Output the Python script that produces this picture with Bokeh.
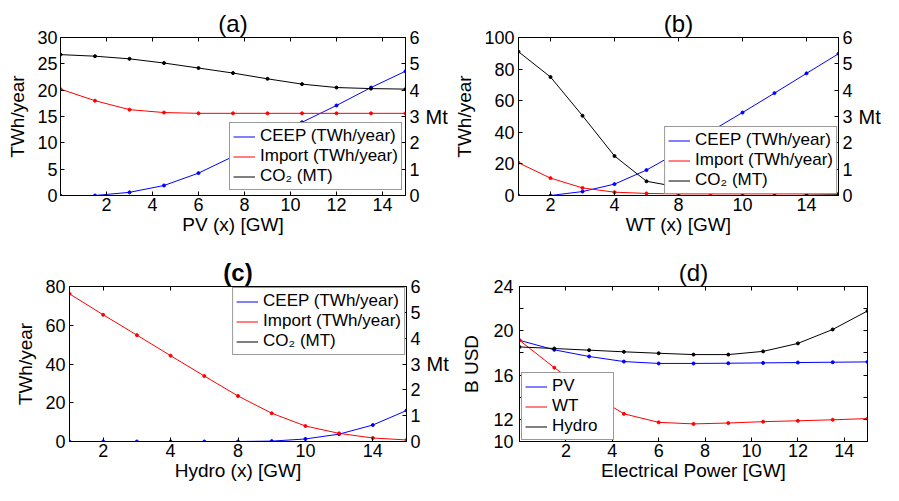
from bokeh.plotting import figure
from bokeh.models import LinearAxis, Range1d, FixedTicker, Legend, LegendItem
from bokeh.layouts import column, row
from bokeh.embed import file_html
from bokeh.resources import INLINE

FONT = "Liberation Sans"

# ---------------- data ----------------
# (a) PV
pv_x = [0, 1.5, 3, 4.5, 6, 7.5, 9, 10.5, 12, 13.5, 15]
pv_ceep = [0, 0, 0.6, 1.9, 4.25, 7.4, 10.7, 13.9, 17.1, 20.5, 23.6]
pv_import = [20.2, 18.0, 16.3, 15.75, 15.6, 15.6, 15.6, 15.6, 15.6, 15.6, 15.6]
pv_co2 = [5.35, 5.29, 5.19, 5.03, 4.84, 4.65, 4.43, 4.23, 4.10, 4.06, 4.04]
pv_ticks = [2, 4, 6, 8, 10, 12, 14]

# (b) WT  (evenly spaced steps, labelled as in the original)
wt_x = [0, 1, 2, 3, 4, 5, 6, 7, 8, 9, 10]
wt_tick_pos = [1, 3, 5, 7, 9]
wt_tick_labels = ["2", "4", "8", "10", "14"]
wt_ceep = [0, 0, 2.5, 7.2, 16.1, 27.5, 40.5, 52.5, 64.8, 77.3, 89.7]
wt_import = [20.7, 11.0, 4.8, 2.1, 1.3, 1.0, 1.0, 1.0, 1.0, 1.0, 1.0]
wt_co2 = [5.46, 4.50, 3.03, 1.50, 0.54, 0.32, 0.22, 0.15, 0.10, 0.07, 0.05]

# (c) Hydro
hy_x = [0, 1, 2, 3, 4, 5, 6, 7, 8, 9, 10]
hy_tick_pos = [1, 3, 5, 7, 9]
hy_tick_labels = ["2", "4", "8", "10", "14"]
hy_ceep = [0, 0, 0, 0, 0, 0, 0.2, 1.3, 3.8, 8.5, 16.0]
hy_import = [76.2, 65.4, 54.9, 44.3, 33.8, 23.5, 14.6, 8.0, 4.2, 1.8, 0.8]
hy_co2 = [0, 0, 0, 0, 0, 0, 0, 0, 0, 0, 0]  # lies on the axis, hidden

# (d) cost
ep_x = [0, 1.5, 3, 4.5, 6, 7.5, 9, 10.5, 12, 13.5, 15]
cost_pv = [19.14, 18.28, 17.68, 17.22, 17.05, 17.05, 17.07, 17.10, 17.13, 17.16, 17.19]
cost_wt = [19.14, 16.67, 14.4, 12.5, 11.73, 11.59, 11.67, 11.79, 11.87, 11.96, 12.07]
cost_hydro = [18.54, 18.40, 18.25, 18.10, 17.97, 17.85, 17.85, 18.14, 18.86, 20.12, 21.79]
ep_ticks = [2, 4, 6, 8, 10, 12, 14]
cost_ticks = [10, 12, 14, 16, 18, 20, 22, 24]
cost_tick_labels = ["10", "12", "", "16", "", "20", "", "24"]

co2_ticks = [0, 1, 2, 3, 4, 5, 6]

BLUE, RED, BLACK = "#0000ff", "#ff0000", "#000000"


def style_axis(ax, standoff=3, label_standoff=4, labels=True):
    ax.axis_line_color = "black"
    ax.axis_line_width = 1
    ax.major_tick_in = 4
    ax.major_tick_out = 0
    ax.minor_tick_line_color = None
    ax.major_tick_line_color = "black"
    ax.major_label_text_font = FONT
    ax.major_label_text_color = "black"
    ax.axis_label_text_font = FONT
    ax.axis_label_text_font_size = "19px"
    ax.axis_label_text_font_style = "normal"
    ax.axis_label_text_color = "black"
    ax.major_label_standoff = standoff
    ax.axis_label_standoff = label_standoff
    if labels:
        ax.major_label_text_font_size = "18px"
    else:
        ax.major_label_text_font_size = "0px"
        ax.major_label_text_color = None
        ax.major_label_standoff = 0


def make_fig(w, h, bl, br, bt, bb, xr, yr, title, bold=False):
    p = figure(width=w, height=h, x_range=Range1d(*xr), y_range=Range1d(*yr),
               output_backend="svg", toolbar_location=None,
               min_border_left=bl, min_border_right=br,
               min_border_top=bt, min_border_bottom=bb)
    p.title.text = title
    p.title.text_font = FONT
    p.title.text_font_size = "24px"
    p.title.text_font_style = "bold" if bold else "normal"
    p.title.text_color = "black"
    p.title.align = "center"
    p.title.standoff = 1
    p.xgrid.visible = False
    p.ygrid.visible = False
    p.outline_line_color = "black"
    p.outline_line_alpha = 1
    p.background_fill_color = "white"
    p.border_fill_color = "white"
    return p, p.below[0], p.left[0]


def set_ticks(ax, pos, labels=None):
    ax.ticker = FixedTicker(ticks=pos)
    if labels is not None:
        ax.major_label_overrides = {pos[i]: labels[i] for i in range(len(pos))}


def add_top(p, pos):
    top = LinearAxis()
    style_axis(top, labels=False)
    top.ticker = FixedTicker(ticks=pos)
    p.add_layout(top, "above")


def add_legend(p, items, location, label_width=20, margin=0):
    lg = Legend(items=[LegendItem(label=l, renderers=[r]) for l, r in items],
                location=location)
    lg.label_text_font = FONT
    lg.label_text_font_size = "17px"
    lg.label_text_color = "black"
    lg.glyph_width = 22
    lg.glyph_height = 19
    lg.label_height = 19
    lg.label_width = label_width
    lg.label_standoff = 5
    lg.spacing = 0
    lg.padding = 3
    lg.margin = margin
    lg.border_line_color = "#333333"
    lg.border_line_width = 1.5
    lg.background_fill_color = "white"
    lg.background_fill_alpha = 1
    p.add_layout(lg)


def series(p, x, y, color, rname=None):
    kw = {} if rname is None else {"y_range_name": rname}
    r = p.line(x, y, line_color=color, line_width=1, **kw)
    p.scatter(x, y, size=3, color=color, **kw)
    return r


def right_axis(p, tick_standoff):
    p.extra_y_ranges = {"co2": Range1d(0, 6)}
    ax = LinearAxis(y_range_name="co2", axis_label="Mt")
    style_axis(ax, standoff=tick_standoff, label_standoff=3)
    ax.axis_label_text_font_size = "20px"
    ax.axis_label_orientation = "horizontal"
    ax.ticker = FixedTicker(ticks=co2_ticks)
    p.add_layout(ax, "right")


# ---------------- (a) ----------------
pa, xa, ya = make_fig(451, 248, 60, 46, 35, 53, (0, 15), (0, 30), "(a)")
right_axis(pa, 4)
add_top(pa, pv_ticks)
style_axis(xa, standoff=2, label_standoff=0)
style_axis(ya, standoff=3, label_standoff=6)
xa.axis_label = "PV (x) [GW]"
ya.axis_label = "TWh/year"
set_ticks(xa, pv_ticks)
set_ticks(ya, [0, 5, 10, 15, 20, 25, 30])
ra1 = series(pa, pv_x, pv_ceep, BLUE)
ra2 = series(pa, pv_x, pv_import, RED)
ra3 = series(pa, pv_x, pv_co2, BLACK, "co2")
add_legend(pa, [("CEEP (TWh/year)", ra1), ("Import (TWh/year)", ra2), ("CO\u2082 (MT)", ra3)], (169, 5))

# ---------------- (b) ----------------
pb, xb, yb = make_fig(432, 248, 61, 38, 37, 51, (0, 10), (0, 100), "(b)")
right_axis(pb, 4)
add_top(pb, wt_tick_pos)
style_axis(xb, standoff=2, label_standoff=0)
style_axis(yb, standoff=4, label_standoff=6)
xb.axis_label = "WT (x) [GW]"
yb.axis_label = "TWh/year"
set_ticks(xb, wt_tick_pos, wt_tick_labels)
set_ticks(yb, [0, 20, 40, 60, 80, 100])
rb1 = series(pb, wt_x, wt_ceep, BLUE)
rb2 = series(pb, wt_x, wt_import, RED)
rb3 = series(pb, wt_x, wt_co2, BLACK, "co2")
add_legend(pb, [("CEEP (TWh/year)", rb1), ("Import (TWh/year)", rb2), ("CO\u2082 (MT)", rb3)], "bottom_right", margin=1)

# ---------------- (c) ----------------
pc, xc, yc = make_fig(451, 237, 69, 38, 38, 44, (0, 10), (0, 80), "(c)", bold=True)
right_axis(pc, 4)
add_top(pc, hy_tick_pos)
style_axis(xc, standoff=2, label_standoff=0)
style_axis(yc, standoff=4, label_standoff=6)
xc.axis_label = "Hydro (x) [GW]"
yc.axis_label = "TWh/year"
set_ticks(xc, hy_tick_pos, hy_tick_labels)
set_ticks(yc, [0, 20, 40, 60, 80])
rc3 = pc.line(hy_x, hy_co2, line_color=BLACK, line_width=1, y_range_name="co2")
rc1 = series(pc, hy_x, hy_ceep, BLUE)
rc2 = series(pc, hy_x, hy_import, RED)
add_legend(pc, [("CEEP (TWh/year)", rc1), ("Import (TWh/year)", rc2), ("CO\u2082 (MT)", rc3)], "top_right", margin=1)

# ---------------- (d) ----------------
pd_, xd, yd = make_fig(432, 237, 68, 16, 38, 44, (0, 15), (10, 24), "(d)")
add_top(pd_, ep_ticks)
rd_ax = LinearAxis()
style_axis(rd_ax, labels=False)
rd_ax.ticker = FixedTicker(ticks=cost_ticks)
pd_.add_layout(rd_ax, "right")
style_axis(xd, standoff=2, label_standoff=0)
style_axis(yd, standoff=6, label_standoff=8)
xd.axis_label = "Electrical Power [GW]"
yd.axis_label = "B USD"
set_ticks(xd, ep_ticks)
set_ticks(yd, cost_ticks, cost_tick_labels)
rd1 = series(pd_, ep_x, cost_pv, BLUE)
rd2 = series(pd_, ep_x, cost_wt, RED)
rd3 = series(pd_, ep_x, cost_hydro, BLACK)
add_legend(pd_, [("PV", rd1), ("WT", rd2), ("Hydro", rd3)], (2, 1), label_width=58)

layout = column(row(pa, pb), row(pc, pd_))
open("out.html", "w").write(file_html(layout, INLINE))
